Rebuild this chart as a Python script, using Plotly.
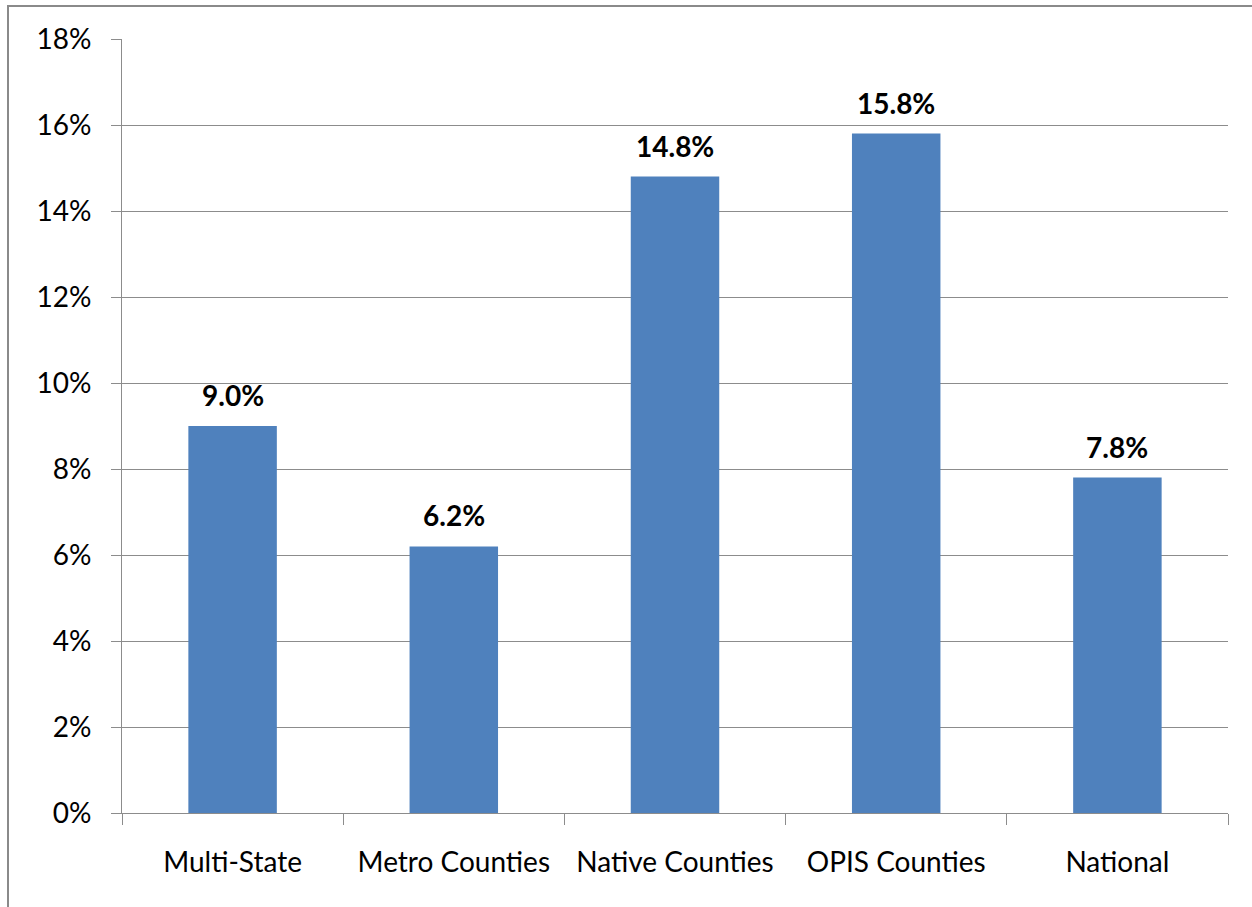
import plotly.graph_objects as go

categories = ["Multi-State", "Metro Counties", "Native Counties", "OPIS Counties", "National"]
values = [9.0, 6.2, 14.8, 15.8, 7.8]
y_ticks = [0, 2, 4, 6, 8, 10, 12, 14, 16, 18]
y_tick_labels = [f"{v}%" for v in y_ticks]

W, H = 1252, 907
ML, MR, MT, MB = 122, 24, 39, 94
FONT = "Lato, 'Open Sans', sans-serif"
GRID = "#8c8c8c"

fig = go.Figure()
fig.add_trace(go.Bar(
    x=categories,
    y=values,
    marker=dict(color="#4F81BD", line=dict(width=0)),
    hoverinfo="skip",
))

# value labels above each bar
for c, v in zip(categories, values):
    fig.add_annotation(
        x=c, y=v, text=f"<b>{v:.1f}%</b>", showarrow=False,
        yanchor="bottom", yshift=12,
        font=dict(family=FONT, size=28, color="#000000"),
    )

# outer chart frame
pw, ph = W - ML - MR, H - MT - MB
fig.add_shape(
    type="rect", xref="paper", yref="paper",
    x0=(8 - ML) / pw, x1=1.2, y0=-0.3, y1=1 + (MT - 6) / ph,
    line=dict(color="#8a8a8a", width=2), fillcolor="rgba(0,0,0,0)", layer="below",
)

fig.update_layout(
    width=W, height=H,
    margin=dict(l=ML, r=MR, t=MT, b=MB, pad=0),
    paper_bgcolor="white", plot_bgcolor="white",
    bargap=0.6,
    showlegend=False,
    font=dict(family=FONT, size=28, color="#000000"),
    xaxis=dict(
        type="category",
        tickson="boundaries",
        ticks="outside", ticklen=11, tickcolor=GRID, tickwidth=1,
        showline=True, linecolor=GRID, linewidth=1,
        showgrid=False,
        ticklabelstandoff=24,
        tickfont=dict(family=FONT, size=28, color="#000000"),
    ),
    yaxis=dict(
        range=[0, 18],
        tickvals=y_ticks, ticktext=y_tick_labels,
        ticks="outside", ticklen=10, tickcolor=GRID, tickwidth=1,
        showline=True, linecolor=GRID, linewidth=1,
        showgrid=True, gridcolor=GRID, gridwidth=1,
        zeroline=False,
        ticklabelstandoff=14,
        tickfont=dict(family=FONT, size=28, color="#000000"),
    ),
)

fig.write_html("out.html")
